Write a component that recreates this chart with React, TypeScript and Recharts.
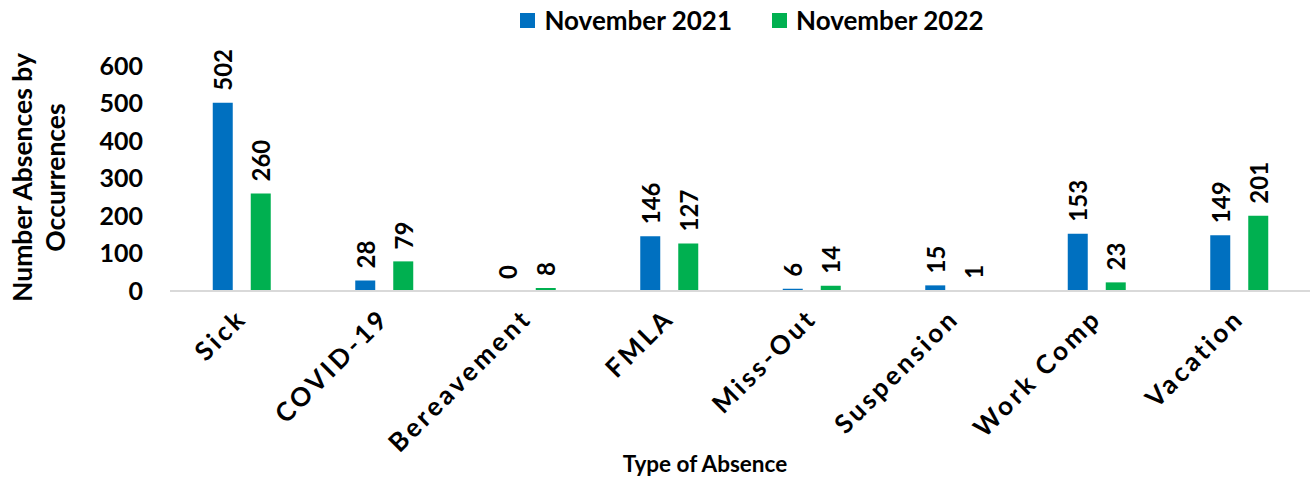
import React from 'react';
import { BarChart, Bar, XAxis, YAxis, LabelList } from 'recharts';

const categories = ['Sick', 'COVID-19', 'Bereavement', 'FMLA', 'Miss-Out', 'Suspension', 'Work Comp', 'Vacation'];
const nov2021 = [502, 28, 0, 146, 6, 15, 153, 149];
const nov2022 = [260, 79, 8, 127, 14, 1, 23, 201];
const yTicks = [0, 100, 200, 300, 400, 500, 600];
const seriesNames = ['November 2021', 'November 2022'];

const BLUE = '#0070C0';
const GREEN = '#00B050';
const FONT = 'Lato, "DejaVu Sans", sans-serif';

const data = categories.map((c, i) => ({ name: c, a: nov2021[i], b: nov2022[i] }));

const ValueLabel = (props: any) => {
  const { x, y, width, value } = props;
  const cx = x + width / 2;
  const ty = y - 12;
  return (
    <text
      x={cx}
      y={ty}
      transform={`rotate(-90, ${cx}, ${ty})`}
      textAnchor="start"
      dominantBaseline="central"
      fontFamily={FONT}
      fontWeight={700}
      fontSize={24}
      fill="#000"
    >
      {value}
    </text>
  );
};

const CatTick = (props: any) => {
  const { x, y, payload } = props;
  const tx = x + 7;
  const ty = y + 21;
  return (
    <text
      x={tx}
      y={ty}
      transform={`rotate(-45, ${tx}, ${ty})`}
      textAnchor="end"
      fontFamily={FONT}
      fontWeight={700}
      fontSize={26}
      letterSpacing={3.2}
      fill="#000"
    >
      {payload.value}
    </text>
  );
};

const YTitle = (props: any) => {
  const vb = props.viewBox || { x: 0, y: 66, width: 170, height: 225 };
  const cy = vb.y + vb.height / 2 - 1;
  const x1 = vb.x + 22;
  const x2 = vb.x + 55;
  return (
    <g fontFamily={FONT} fontWeight={700} fontSize={26.5} fill="#000">
      <text x={x1} y={cy} transform={`rotate(-90, ${x1}, ${cy})`} textAnchor="middle" dominantBaseline="central">
        Number Absences by
      </text>
      <text x={x2} y={cy} transform={`rotate(-90, ${x2}, ${cy})`} textAnchor="middle" dominantBaseline="central">
        Occurrences
      </text>
    </g>
  );
};

const XTitle = (props: any) => {
  const vb = props.viewBox || { x: 170, y: 291, width: 1140, height: 188 };
  const cx = vb.x + vb.width / 2 - 35;
  return (
    <text x={cx} y={463} textAnchor="middle" dominantBaseline="central" fontFamily={FONT} fontWeight={700} fontSize={22.5} fill="#000">
      Type of Absence
    </text>
  );
};

const LegendBox = () => {
  const colors = [BLUE, GREEN];
  return (
    <div
      style={{
        position: 'absolute',
        left: 0,
        top: 5,
        width: 1316,
        display: 'flex',
        justifyContent: 'center',
        gap: 40,
        fontFamily: FONT,
        fontWeight: 700,
        fontSize: 26,
        color: '#000',
        paddingLeft: 188,
        boxSizing: 'border-box',
      }}
    >
      {seriesNames.map((n, i) => (
        <div key={n} style={{ display: 'flex', alignItems: 'center' }}>
          <span style={{ display: 'inline-block', width: 15, height: 15, background: colors[i], marginRight: 9 }} />
          <span style={{ lineHeight: '30px' }}>{n}</span>
        </div>
      ))}
    </div>
  );
};

export default function App() {
  return (
    <div style={{ position: 'absolute', left: 0, top: 0, width: 1316, height: 479, background: '#fff' }}>
      <BarChart
        width={1316}
        height={479}
        data={data}
        margin={{ top: 66, right: 6, bottom: 0, left: 0 }}
        barCategoryGap="30%"
        barGap={18}
      >
        <XAxis
          dataKey="name"
          height={188}
          axisLine={{ stroke: '#D9D9D9', strokeWidth: 2 }}
          tickLine={false}
          tick={<CatTick />}
          interval={0}
          label={<XTitle />}
        />
        <YAxis
          width={170}
          domain={[0, 600]}
          ticks={yTicks}
          interval={0}
          axisLine={false}
          tickLine={false}
          tickSize={6}
          tickMargin={21}
          tick={{ fontFamily: FONT, fontWeight: 700, fontSize: 25, fill: '#000' }}
          label={<YTitle />}
        />
        <Bar dataKey="a" name={seriesNames[0]} fill={BLUE} isAnimationActive={false} minPointSize={0.01}>
          <LabelList dataKey="a" content={<ValueLabel />} />
        </Bar>
        <Bar dataKey="b" name={seriesNames[1]} fill={GREEN} isAnimationActive={false}>
          <LabelList dataKey="b" content={<ValueLabel />} />
        </Bar>
      </BarChart>
      <LegendBox />
    </div>
  );
}
